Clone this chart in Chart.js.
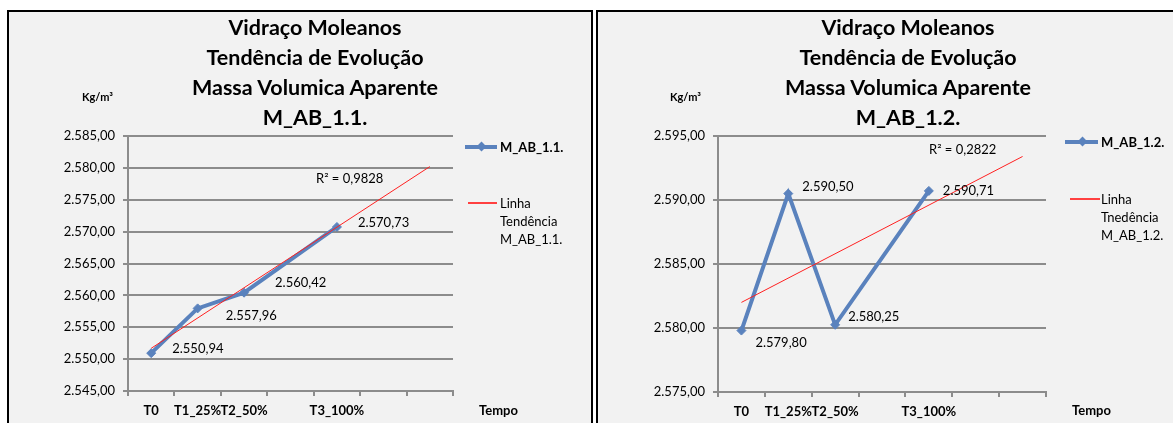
<!DOCTYPE html>
<html>
<head>
<meta charset="utf-8">
<script src="https://cdn.jsdelivr.net/npm/chart.js@4"></script>
<style>
  body { margin:0; width:1173px; height:423px; background:#fff; overflow:hidden; position:relative;
         font-family: Lato, "Liberation Sans", sans-serif; color:#000; }
  .panel { position:absolute; top:10px; height:440px; background:#f2f2f2; border:2px solid #000; box-sizing:border-box; }
  #p1 { left:7px; width:586px; }
  #p2 { left:596px; width:620px; }
  canvas { position:absolute; }
  .title { position:absolute; top:12px; width:400px; font-weight:bold; font-size:21.5px; line-height:30px; text-align:center; }
  .unit { position:absolute; top:91px; font-weight:bold; font-size:11px; line-height:12px; }
  .tempo { position:absolute; top:402px; font-weight:bold; font-size:13px; line-height:16px; }
  .r2 { position:absolute; font-size:13px; line-height:16px; }
  .leg { position:absolute; font-size:13px; line-height:18px; white-space:nowrap; }
  .leg.b { font-weight:bold; }
  .swb { position:absolute; height:4px; background:#5a82bd; }
  .dia { position:absolute; width:7px; height:7px; background:#5a82bd; transform:rotate(45deg); }
  .swr { position:absolute; height:2px; background:#ff4040; }
</style>
</head>
<body>
<div class="panel" id="p1"></div>
<div class="panel" id="p2"></div>

<canvas id="c1" width="582" height="411" style="left:9px;top:12px"></canvas>
<canvas id="c2" width="575" height="411" style="left:598px;top:12px"></canvas>

<div class="title" style="left:115px">Vidraço Moleanos<br>Tendência de Evolução<br>Massa Volumica Aparente<br>M_AB_1.1.</div>
<div class="title" style="left:708px">Vidraço Moleanos<br>Tendência de Evolução<br>Massa Volumica Aparente<br>M_AB_1.2.</div>

<div class="unit" style="left:82px">Kg/m³</div>
<div class="unit" style="left:670px">Kg/m³</div>
<div class="tempo" style="left:479px">Tempo</div>
<div class="tempo" style="left:1072px">Tempo</div>
<div class="r2" style="left:316px;top:170px">R² = 0,9828</div>
<div class="r2" style="left:929px;top:141px">R² = 0,2822</div>

<!-- legenda esquerda -->
<div class="swb" style="left:465px;top:145px;width:32px"></div>
<div class="dia" style="left:478px;top:143px"></div>
<div class="leg b" style="left:500px;top:138px">M_AB_1.1.</div>
<div class="swr" style="left:468px;top:202px;width:29px"></div>
<div class="leg" style="left:500px;top:194px">Linha<br>Tendência<br>M_AB_1.1.</div>

<!-- legenda direita -->
<div class="swb" style="left:1065px;top:140px;width:33px"></div>
<div class="dia" style="left:1079px;top:138px"></div>
<div class="leg b" style="left:1101px;top:133px">M_AB_1.2.</div>
<div class="swr" style="left:1070px;top:198px;width:30px"></div>
<div class="leg" style="left:1101px;top:190px">Linha<br>Tnedência<br>M_AB_1.2.</div>

<script>
// categorias (indice 3, 5 e 6 vazios como no Excel)
const categories = ['T0', 'T1_25%', 'T2_50%', '', 'T3_100%', '', ''];

// M_AB_1.1.
const massa11 = [2550.94, 2557.96, 2560.42, null, 2570.73, null, null];
const trend11 = [2551.7, null, null, null, null, null, 2580.2];
const yRange11 = [2545, 2585];

// M_AB_1.2.
const massa12 = [2579.80, 2590.50, 2580.25, null, 2590.71, null, null];
const trend12 = [2582.0, null, null, null, null, null, 2593.4];
const yRange12 = [2575, 2595];

const yStep = 5;

// deslocamento dos rotulos (dx, dy) em px
const offs11 = [[21, -4], [28, 7], [31, -10], null, [21, -4]];
const offs12 = [[14, 12], [14, -7], [13, -8], null, [14, 0]];

const FONT = 'Lato, "Liberation Sans", sans-serif';
const BLUE = '#5a82bd';
const GRID = '#8c8c8c';

function fmt(v) {
    const p = v.toFixed(2).split('.');
    return p[0].replace(/\B(?=(\d{3})+(?!\d))/g, '.') + ',' + p[1];
}

const dataLabels = {
    id: 'dataLabels',
    afterDatasetsDraw(chart, args, opts) {
        const ctx = chart.ctx;
        const meta = chart.getDatasetMeta(0);
        const vals = chart.data.datasets[0].data;
        ctx.save();
        ctx.font = '13px ' + FONT;
        ctx.fillStyle = '#000';
        ctx.textBaseline = 'middle';
        ctx.textAlign = 'left';
        meta.data.forEach((pt, i) => {
            if (vals[i] == null) return;
            const o = opts.offsets[i] || [15, 0];
            ctx.fillText(fmt(vals[i]), pt.x + o[0], pt.y + o[1]);
        });
        ctx.restore();
    }
};

function makeChart(id, series, trend, yRange, area, offsets) {
    const cv = document.getElementById(id);
    const W = cv.width, H = cv.height;
    return new Chart(cv, {
        type: 'line',
        data: {
            labels: categories,
            datasets: [{
                data: series,
                borderColor: BLUE,
                backgroundColor: BLUE,
                borderWidth: 4,
                pointStyle: 'rectRot',
                pointRadius: 4.5,
                pointBorderWidth: 1,
                pointBackgroundColor: BLUE,
                spanGaps: true,
                order: 1
            }, {
                data: trend,
                borderColor: '#ff2020',
                borderWidth: 1,
                pointRadius: 0,
                spanGaps: true,
                order: 0
            }]
        },
        options: {
            responsive: false,
            animation: false,
            devicePixelRatio: 1,
            layout: { padding: { top: area.top, right: W - area.right, left: 0, bottom: 0 } },
            plugins: {
                legend: { display: false },
                tooltip: { enabled: false },
                dataLabels: { offsets: offsets }
            },
            scales: {
                x: {
                    offset: true,
                    grid: { display: true, drawOnChartArea: false, drawTicks: true, tickLength: 5, offset: true, color: GRID, lineWidth: 2 },
                    border: { display: true, color: GRID, width: 2 },
                    ticks: { autoSkip: false, maxRotation: 0, padding: 7, color: '#000', font: { family: FONT, size: 13, weight: 'bold' } },
                    afterFit(s) { s.height = H - area.bottom; }
                },
                y: {
                    min: yRange[0],
                    max: yRange[1],
                    grid: { color: GRID, lineWidth: 2, tickLength: 5 },
                    border: { display: true, color: GRID, width: 2 },
                    ticks: { stepSize: yStep, padding: 8, color: '#000', font: { family: FONT, size: 13 }, callback: v => fmt(v) },
                    afterFit(s) { s.width = area.left; }
                }
            }
        },
        plugins: [dataLabels]
    });
}

makeChart('c1', massa11, trend11, yRange11, { left: 119, right: 444, top: 124, bottom: 379 }, offs11);
makeChart('c2', massa12, trend12, yRange12, { left: 120, right: 448, top: 124, bottom: 380 }, offs12);
</script>
</body>
</html>
